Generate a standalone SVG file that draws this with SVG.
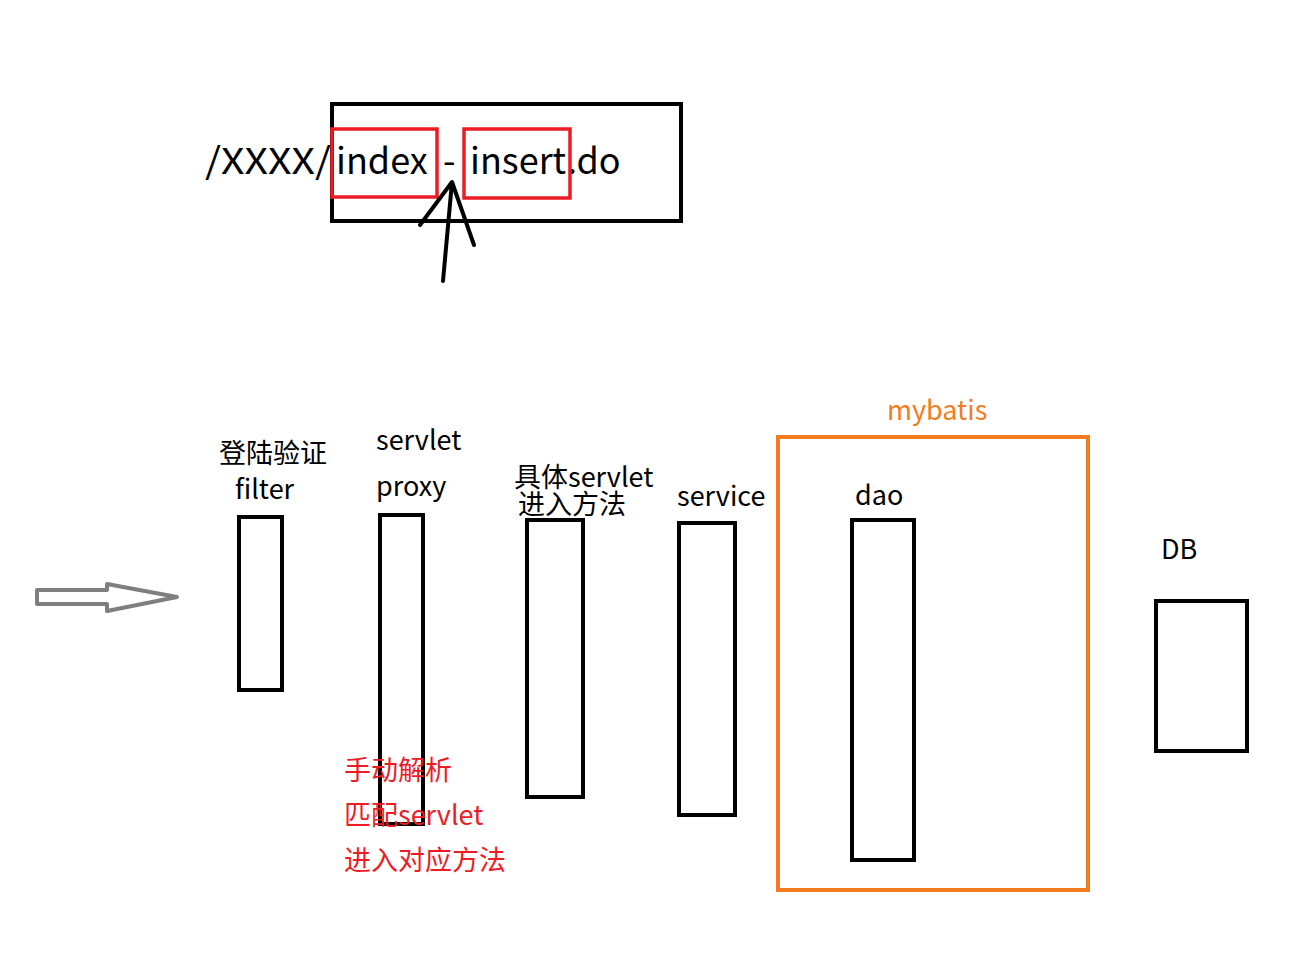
<svg xmlns="http://www.w3.org/2000/svg" width="1300" height="974" viewBox="0 0 1300 974">
<style>
.t{font-family:"Noto Sans CJK SC","Noto Sans",sans-serif;font-size:27px;fill:#000}
.r{fill:#ed1c24}
.o{fill:#f47c20}
.box{fill:none;stroke:#000;stroke-width:4}
.red{fill:none;stroke:#ed1c24;stroke-width:3.5}
</style>
<rect width="1300" height="974" fill="#fff"/>
<g id="url">
<rect class="box" x="332" y="104" width="349" height="117"/>
<text class="t" x="205" y="174" style="font-size:36px" textLength="126" lengthAdjust="spacingAndGlyphs">/XXXX/</text>
<text class="t" y="174" style="font-size:36px"><tspan x="336">index</tspan><tspan x="443">-</tspan><tspan x="470">insert</tspan><tspan x="567">.do</tspan></text>
<rect class="red" x="332" y="129" width="105" height="68"/>
<rect class="red" x="464" y="129" width="106" height="69"/>
</g>
<g id="connectors" fill="none" stroke-linecap="round" stroke-linejoin="round">
<path d="M443 281 L452 182 M420 225 L452 182 L474 245" stroke="#000" stroke-width="4"/>
<polygon points="37,590 107,590 107,584 177,597 107,611 107,604 37,604" stroke="#7f7f7f" stroke-width="4"/>
</g>
<g id="filter">
<text class="t" x="219" y="463">登陆验证</text>
<text class="t" x="235" y="499">filter</text>
<rect class="box" x="239" y="517" width="43" height="173"/>
</g>
<g id="proxy">
<text class="t" x="376" y="450">servlet</text>
<text class="t" x="376" y="496">proxy</text>
<rect class="box" x="380" y="515" width="43" height="309"/>
</g>
<g id="servlet">
<text class="t" x="514" y="487">具体servlet</text>
<text class="t" x="518" y="514">进入方法</text>
<rect class="box" x="527" y="520" width="56" height="277"/>
</g>
<g id="service">
<text class="t" x="677" y="506">service</text>
<rect class="box" x="679" y="523" width="56" height="292"/>
</g>
<g id="mybatis">
<text class="t o" x="887" y="420">mybatis</text>
<rect x="778" y="437" width="310" height="453" fill="none" stroke="#f47c20" stroke-width="4"/>
</g>
<g id="dao">
<text class="t" x="855" y="505">dao</text>
<rect class="box" x="852" y="520" width="62" height="340"/>
</g>
<g id="db">
<text class="t" x="1161" y="559">DB</text>
<rect class="box" x="1156" y="601" width="91" height="150"/>
</g>
<g id="note">
<text class="t r" x="344" y="780">手动解析</text>
<text class="t r" x="344" y="825">匹配servlet</text>
<text class="t r" x="344" y="870">进入对应方法</text>
</g>
</svg>
